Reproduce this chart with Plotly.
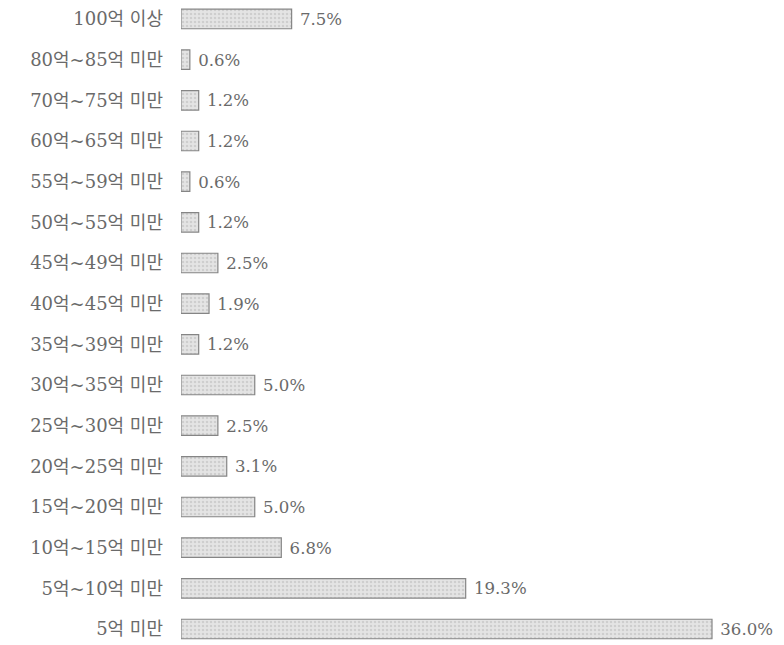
import plotly.graph_objects as go

categories = ["100억 이상", "80억~85억 미만", "70억~75억 미만", "60억~65억 미만",
              "55억~59억 미만", "50억~55억 미만", "45억~49억 미만", "40억~45억 미만",
              "35억~39억 미만", "30억~35억 미만", "25억~30억 미만", "20억~25억 미만",
              "15억~20억 미만", "10억~15억 미만", "5억~10억 미만", "5억 미만"]
values = [7.5, 0.6, 1.2, 1.2, 0.6, 1.2, 2.5, 1.9, 1.2, 5.0, 2.5, 3.1, 5.0, 6.8, 19.3, 36.0]
labels = [" %.1f%%" % v for v in values]

font_family = "DejaVu Serif, Noto Sans CJK KR, serif"

fig = go.Figure(go.Bar(
    x=values, y=categories, orientation="h",
    text=labels, textposition="outside", cliponaxis=False,
    textfont=dict(family=font_family, size=17, color="#6a6a6a"),
    marker=dict(color="#dcdcdc", line=dict(color="#858585", width=1.2),
                pattern=dict(shape=".", fgcolor="#b8b8b8", bgcolor="#e4e4e4", size=4, solidity=0.3)),
    width=0.48,
))

fig.update_layout(
    width=784, height=645,
    margin=dict(l=173, r=21, t=0, b=0),
    paper_bgcolor="white", plot_bgcolor="white",
    showlegend=False,
    xaxis=dict(range=[0, 40], visible=False, automargin=False),
    yaxis=dict(type="category", categoryarray=categories, range=[15.590, -0.270],
               showgrid=False, showline=False, ticks="", ticklabelstandoff=17,
               automargin=False,
               tickfont=dict(family=font_family, size=18, color="#6a6a6a")),
)

fig.write_html("out.html")
